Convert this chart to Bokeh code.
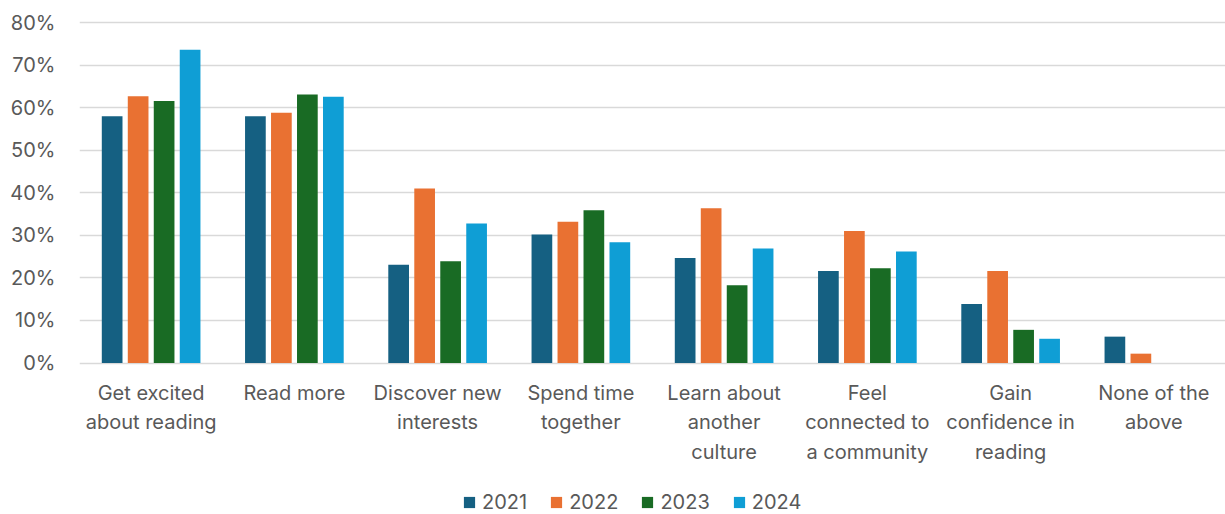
from bokeh.plotting import figure
from bokeh.models import (FactorRange, Range1d, NumeralTickFormatter, Legend,
                          LegendItem, FixedTicker, ColumnDataSource)
from bokeh.core.properties import value
from bokeh.transform import dodge
from bokeh.embed import file_html
from bokeh.resources import INLINE

# Survey outcomes by year (share of respondents)
categories = [
    "Get excited about reading",
    "Read more",
    "Discover new interests",
    "Spend time together",
    "Learn about another culture",
    "Feel connected to a community",
    "Gain confidence in reading",
    "None of the above",
]
wrapped_labels = [
    "Get excited\nabout reading",
    "Read more",
    "Discover new\ninterests",
    "Spend time\ntogether",
    "Learn about\nanother\nculture",
    "Feel\nconnected to\na community",
    "Gain\nconfidence in\nreading",
    "None of the\nabove",
]
years = ["2021", "2022", "2023", "2024"]
v2021 = [0.580, 0.580, 0.231, 0.302, 0.247, 0.216, 0.139, 0.062]
v2022 = [0.627, 0.588, 0.410, 0.332, 0.364, 0.310, 0.216, 0.022]
v2023 = [0.616, 0.631, 0.239, 0.359, 0.183, 0.223, 0.078, 0.0]
v2024 = [0.736, 0.626, 0.328, 0.284, 0.269, 0.262, 0.057, 0.0]
colors = ["#156082", "#E97132", "#196B24", "#0F9ED5"]

FONT = "Inter"
TEXT = "#595959"
FONT_SIZE = "20px"

# vertical scale: 425.5 px per unit, frame runs from the top margin to the bottom edge
PX_PER_UNIT = 425.5
TOP_MARGIN = 20
HEIGHT = 514
y_top = 0.805
y_bottom = y_top - (HEIGHT - TOP_MARGIN) / PX_PER_UNIT
label_y = -18.0 / PX_PER_UNIT  # category labels sit just under the baseline

source = ColumnDataSource(data=dict(cat=categories, label=wrapped_labels,
                                    label_y=[label_y] * len(categories),
                                    y2021=v2021, y2022=v2022,
                                    y2023=v2023, y2024=v2024))

p = figure(width=1225, height=HEIGHT,
           x_range=FactorRange(factors=categories, range_padding=0),
           y_range=Range1d(y_bottom, y_top),
           min_border_left=79, min_border_right=0,
           min_border_top=TOP_MARGIN, min_border_bottom=0,
           output_backend="svg", toolbar_location=None)
p.outline_line_color = None
p.background_fill_color = "white"
p.border_fill_color = "white"

step = 0.1814
bar_w = 0.1445
offsets = [-1.5 * step, -0.5 * step, 0.5 * step, 1.5 * step]
renderers = []
for yr, col, off in zip(years, colors, offsets):
    r = p.vbar(x=dodge("cat", off, range=p.x_range), top="y" + yr, width=bar_w,
               source=source, fill_color=col, line_color=None)
    renderers.append(r)

# category labels (multi-line) under each group
p.text(x="cat", y="label_y", text="label", source=source,
       text_font=value(FONT), text_font_size=FONT_SIZE, text_color=TEXT,
       text_align="center", text_baseline="top", text_line_height=1.22)

# grid
p.xgrid.grid_line_color = None
p.ygrid.grid_line_color = "#d9d9d9"
p.ygrid.grid_line_width = 1.3

# y axis
p.yaxis.ticker = FixedTicker(ticks=[0, 0.1, 0.2, 0.3, 0.4, 0.5, 0.6, 0.7, 0.8])
p.yaxis.formatter = NumeralTickFormatter(format="0%")
p.yaxis.axis_line_color = None
p.yaxis.major_tick_line_color = None
p.yaxis.minor_tick_line_color = None
p.yaxis.major_label_text_font = FONT
p.yaxis.major_label_text_font_size = FONT_SIZE
p.yaxis.major_label_text_color = TEXT
p.yaxis.major_label_standoff = 18

p.xaxis.visible = False

legend = Legend(items=[LegendItem(label=yr, renderers=[r]) for yr, r in zip(years, renderers)],
                orientation="horizontal", location=(383, 0),
                glyph_width=14, glyph_height=14, label_standoff=6, spacing=22,
                label_text_font=FONT, label_text_font_size=FONT_SIZE,
                label_text_color=TEXT, border_line_color=None,
                background_fill_alpha=0, padding=0, margin=0)
p.add_layout(legend, "center")

open("out.html", "w").write(file_html(p, INLINE))
